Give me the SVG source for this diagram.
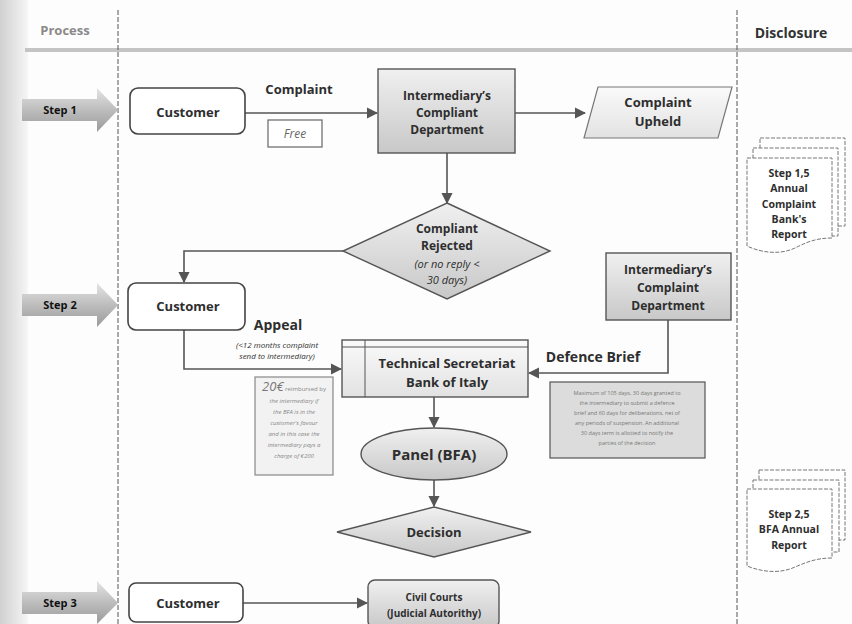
<svg xmlns="http://www.w3.org/2000/svg" width="852" height="624" viewBox="0 0 852 624">
<defs>
  <linearGradient id="gBox" x1="0" y1="0" x2="0" y2="1">
    <stop offset="0" stop-color="#f0f0f0"/>
    <stop offset="1" stop-color="#c8c8c8"/>
  </linearGradient>
  <linearGradient id="gLight" x1="0" y1="0" x2="0" y2="1">
    <stop offset="0" stop-color="#fafafa"/>
    <stop offset="1" stop-color="#e2e2e2"/>
  </linearGradient>
  <linearGradient id="gStep" x1="0" y1="0" x2="0" y2="1">
    <stop offset="0" stop-color="#e4e4e4"/>
    <stop offset="0.5" stop-color="#bdbdbd"/>
    <stop offset="1" stop-color="#9a9a9a"/>
  </linearGradient>
  <linearGradient id="gLeft" x1="0" y1="0" x2="1" y2="0">
    <stop offset="0" stop-color="#d0d0d0"/>
    <stop offset="1" stop-color="#f6f6f6"/>
  </linearGradient>
  <marker id="arr" viewBox="0 0 10 10" refX="9" refY="5" markerWidth="7" markerHeight="7" orient="auto-start-reverse">
    <path d="M0,0 L10,5 L0,10 z" fill="#555"/>
  </marker>
  <style>
    text { font-family: "Open Sans", "Liberation Sans", sans-serif; fill: #2e2e2e; text-anchor: middle; }
    .b { font-weight: bold; }
    .t13 { font-size: 13px; }
    .t12 { font-size: 12px; }
    .t11 { font-size: 11px; }
    .it { font-style: italic; font-weight: normal; }
    .ln { fill: none; stroke: #555; stroke-width: 1.6; }
    .box { stroke: #555; stroke-width: 1.4; }
    .doc { fill: #fff; stroke: #777; stroke-width: 1; stroke-dasharray: 4 1.5; }
    .sep { stroke: #555; stroke-width: 1; stroke-dasharray: 5 2; fill: none; }
    .dt { font-weight: bold; font-size: 10.5px; }
  </style>
</defs>

<rect width="852" height="624" fill="#fdfdfd"/>
<rect x="0" y="0" width="28" height="624" fill="url(#gLeft)"/>

<!-- header / lanes -->
<g id="header">
  <line x1="25" y1="50" x2="852" y2="50" stroke="#c4c4c4" stroke-width="4"/>
  <line class="sep" x1="118" y1="10" x2="118" y2="624"/>
  <line class="sep" x1="737" y1="10" x2="737" y2="624"/>
  <text x="65" y="35" class="b t13" style="fill:#8a8a8a">Process</text>
  <text x="791" y="38" class="b" style="font-size:14px;fill:#333">Disclosure</text>
</g>

<!-- step arrows -->
<g id="step1">
  <path d="M22,99 H97 V88 L118,110 L97,132 V121 H22 Z" fill="url(#gStep)"/>
  <text x="60" y="114" class="b t11" style="fill:#111">Step 1</text>
</g>
<g id="step2">
  <path d="M22,294 H97 V283 L118,305 L97,327 V316 H22 Z" fill="url(#gStep)"/>
  <text x="60" y="309" class="b t11" style="fill:#111">Step 2</text>
</g>
<g id="step3">
  <path d="M22,592 H97 V581 L118,603 L97,624 V614 H22 Z" fill="url(#gStep)"/>
  <text x="60" y="607" class="b t11" style="fill:#111">Step 3</text>
</g>

<!-- connectors -->
<g id="connectors">
  <line class="ln" x1="245" y1="113" x2="377" y2="113" marker-end="url(#arr)"/>
  <line class="ln" x1="515" y1="113" x2="585" y2="113" marker-end="url(#arr)"/>
  <line class="ln" x1="447" y1="153" x2="447" y2="203" marker-end="url(#arr)"/>
  <polyline class="ln" points="343,251 184,251 184,282" marker-end="url(#arr)"/>
  <polyline class="ln" points="184,330 184,369 341,369" marker-end="url(#arr)"/>
  <polyline class="ln" points="668,320 668,373 529,373" marker-end="url(#arr)"/>
  <line class="ln" x1="434" y1="397" x2="434" y2="427" marker-end="url(#arr)"/>
  <line class="ln" x1="434" y1="480" x2="434" y2="506" marker-end="url(#arr)"/>
  <line class="ln" x1="243" y1="603" x2="367" y2="603" marker-end="url(#arr)"/>
  <text x="299" y="94" class="b t13">Complaint</text>
  <text x="278" y="330" class="b" style="font-size:14px">Appeal</text>
  <text x="277" y="348" class="it" style="font-size:8px">(&lt;12 months complaint</text>
  <text x="277" y="359" class="it" style="font-size:8px">send to intermediary)</text>
  <text x="593" y="362" class="b" style="font-size:14px">Defence Brief</text>
</g>

<!-- nodes -->
<g id="customer1">
  <rect x="130" y="88" width="115" height="46" rx="8" fill="#fff" stroke="#444" stroke-width="1.6"/>
  <text x="188" y="117" class="b t13">Customer</text>
</g>
<g id="free">
  <rect x="268" y="120" width="54" height="27" fill="#fff" stroke="#666" stroke-width="1.2"/>
  <text x="295" y="138" class="it t12" style="fill:#666">Free</text>
</g>
<g id="intermediary1">
  <rect x="378" y="69" width="137" height="84" class="box" fill="url(#gBox)"/>
  <text x="447" y="100" class="b t12">Intermediary’s</text>
  <text x="447" y="117" class="b t12">Compliant</text>
  <text x="447" y="134" class="b t12">Department</text>
</g>
<g id="upheld">
  <path d="M598,87 H732 L718,138 H584 Z" fill="url(#gLight)" stroke="#777" stroke-width="1.2"/>
  <text x="658" y="107" class="b t13">Complaint</text>
  <text x="658" y="126" class="b t13">Upheld</text>
</g>
<g id="rejected">
  <path d="M447,203 L550,251 L447,299 L343,251 Z" fill="url(#gBox)" class="box"/>
  <text x="447" y="233" class="b t12">Compliant</text>
  <text x="447" y="250" class="b t12">Rejected</text>
  <text x="447" y="268" class="it" style="font-size:11px">(or no reply &lt;</text>
  <text x="447" y="284" class="it" style="font-size:11px">30 days)</text>
</g>
<g id="customer2">
  <rect x="128" y="283" width="117" height="47" rx="8" fill="#fff" stroke="#444" stroke-width="1.6"/>
  <text x="188" y="311" class="b t13">Customer</text>
</g>
<g id="intermediary2">
  <rect x="606" y="253" width="125" height="67" class="box" fill="url(#gBox)"/>
  <text x="668" y="274" class="b t12">Intermediary’s</text>
  <text x="668" y="292" class="b t12">Complaint</text>
  <text x="668" y="310" class="b t12">Department</text>
</g>
<g id="techsec">
  <rect x="342" y="340" width="186" height="57" class="box" fill="url(#gLight)"/>
  <line x1="342" y1="347" x2="528" y2="347" stroke="#555" stroke-width="1"/>
  <line x1="365" y1="340" x2="365" y2="397" stroke="#555" stroke-width="1"/>
  <text x="447" y="368" class="b t13">Technical Secretariat</text>
  <text x="447" y="387" class="b t13">Bank of Italy</text>
</g>
<g id="note20">
  <rect x="255" y="377" width="78" height="98" fill="#f2f2f2" stroke="#888" stroke-width="1.2"/>
  <text x="294" y="391" style="font-size:6px;fill:#888"><tspan class="it" style="font-size:13px;fill:#777">20€</tspan> reimbursed by</text>
  <text x="294" y="403" class="it" style="font-size:6px;fill:#888">the intermediary if</text>
  <text x="294" y="414" class="it" style="font-size:6px;fill:#888">the BFA is in the</text>
  <text x="294" y="425" class="it" style="font-size:6px;fill:#888">customer's favour</text>
  <text x="294" y="436" class="it" style="font-size:6px;fill:#888">and in this case the</text>
  <text x="294" y="447" class="it" style="font-size:6px;fill:#888">intermediary pays a</text>
  <text x="294" y="458" class="it" style="font-size:6px;fill:#888">charge of €200</text>
</g>
<g id="notedef">
  <rect x="550" y="382" width="155" height="76" fill="#dcdcdc" stroke="#555" stroke-width="1.2"/>
  <text x="627" y="395" style="font-size:5.5px;fill:#777">Maximum of 105 days, 30 days granted to</text>
  <text x="627" y="405" style="font-size:5.5px;fill:#777">the intermediary to submit a defence</text>
  <text x="627" y="415" style="font-size:5.5px;fill:#777">brief and 60 days for deliberations, net of</text>
  <text x="627" y="425" style="font-size:5.5px;fill:#777">any periods of suspension. An additional</text>
  <text x="627" y="435" style="font-size:5.5px;fill:#777">30 days term is allotted to notify the</text>
  <text x="627" y="445" style="font-size:5.5px;fill:#777">parties of the decision</text>
</g>
<g id="panel">
  <ellipse cx="434" cy="454" rx="73" ry="26" fill="url(#gBox)" class="box"/>
  <text x="434" y="460" class="b" style="font-size:15px">Panel (BFA)</text>
</g>
<g id="decision">
  <path d="M434,507 L531,532 L434,557 L337,532 Z" fill="url(#gBox)" class="box"/>
  <text x="434" y="537" class="b t13">Decision</text>
</g>
<g id="customer3">
  <rect x="129" y="583" width="114" height="39" rx="7" fill="#fff" stroke="#444" stroke-width="1.6"/>
  <text x="188" y="608" class="b t13">Customer</text>
</g>
<g id="courts">
  <rect x="368" y="580" width="131" height="48" rx="7" fill="url(#gBox)" class="box"/>
  <text x="434" y="601" class="b" style="font-size:10px">Civil Courts</text>
  <text x="434" y="617" class="b" style="font-size:10px">(Judicial Autorithy)</text>
</g>

<!-- disclosure documents -->
<g id="doc1">
  <rect x="760" y="138" width="85" height="88" class="doc"/>
  <rect x="753" y="148" width="85" height="88" class="doc"/>
  <path d="M747,158 H832 V238 C815,238 805,243 795,248 C780,255 762,253 747,246 Z" class="doc"/>
  <text x="789" y="177" class="dt">Step 1,5</text>
  <text x="789" y="192" class="dt">Annual</text>
  <text x="789" y="208" class="dt">Complaint</text>
  <text x="789" y="223" class="dt">Bank's</text>
  <text x="789" y="238" class="dt">Report</text>
</g>
<g id="doc2">
  <rect x="759" y="470" width="86" height="70" class="doc"/>
  <rect x="753" y="480" width="86" height="72" class="doc"/>
  <path d="M747,489 H832 V558 C815,558 805,563 795,567 C780,574 762,572 747,566 Z" class="doc"/>
  <text x="789" y="518" class="dt">Step 2,5</text>
  <text x="789" y="533" class="dt">BFA Annual</text>
  <text x="789" y="549" class="dt">Report</text>
</g>
</svg>
